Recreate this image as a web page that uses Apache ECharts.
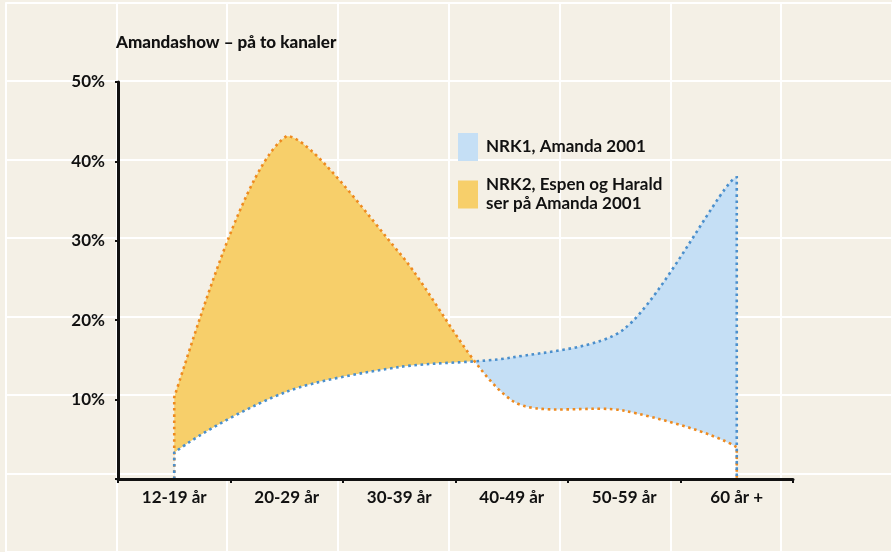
<!DOCTYPE html>
<html>
<head>
<meta charset="utf-8">
<script src="https://cdn.jsdelivr.net/npm/echarts@6/dist/echarts.min.js"></script>
<style>
  html, body { margin: 0; padding: 0; background: #f4f0e6; }
  #main { width: 892px; height: 552px; }
</style>
</head>
<body>
<div id="main"></div>
<script>
// aldersgrupper og andel seere (%)
const ageGroups = ['12-19 år', '20-29 år', '30-39 år', '40-49 år', '50-59 år', '60 år +'];
const nrk1 = [3.3, 11, 14.1, 15.3, 18.9, 38];
const nrk2 = [10.3, 43.2, 28.5, 9.9, 8.6, 4];
const yTicks = [0, 10, 20, 30, 40, 50];
const nameNrk1 = 'NRK1, Amanda 2001';
const nameNrk2 = 'NRK2, Espen og Harald\nser på Amanda 2001';

const FONT = 'Lato';
const SMOOTH = 0.28;

const chart = echarts.init(document.getElementById('main'), null, { renderer: 'canvas' });

// kurve: start i 0, gjennom verdiene, ned til 0 igjen
function curvePoints(api, values) {
  const pts = [api.coord([0, 0])];
  values.forEach((v, i) => pts.push(api.coord([i, v])));
  pts.push(api.coord([values.length - 1, 0]));
  return pts;
}

function curveShape(pts) {
  // smoothConstraint holder kontrollpunktene innenfor kurvens ramme
  return { points: pts, smooth: SMOOTH, smoothConstraint: [pts[0], pts[0]] };
}

const option = {
  backgroundColor: '#f4f0e6',
  animation: false,
  title: {
    text: 'Amandashow – på to kanaler',
    left: 116,
    top: 34,
    padding: 0,
    textStyle: { fontFamily: FONT, fontSize: 17, fontWeight: 900, color: '#111' }
  },
  legend: {
    orient: 'vertical',
    left: 458,
    top: 133,
    padding: 0,
    itemWidth: 20,
    itemHeight: 28,
    itemGap: 2,
    icon: 'rect',
    selectedMode: false,
    textStyle: { fontFamily: FONT, fontSize: 17, fontWeight: 'bold', color: '#111', lineHeight: 19, padding: [0, 0, 0, 3] },
    data: [
      { name: nameNrk1 },
      { name: nameNrk2, textStyle: { padding: [25, 0, 0, 3] } }
    ]
  },
  grid: [
    { left: 118, right: 99, top: 82, bottom: 73 },
    // bakgrunnsrutenett over hele flaten
    { left: 5.5, top: 2.6, width: 900, height: 555.8 }
  ],
  xAxis: [
    {
      type: 'category',
      gridIndex: 0,
      data: ageGroups,
      boundaryGap: true,
      axisLine: { lineStyle: { color: '#111', width: 3 } },
      axisTick: { show: true, length: 4, lineStyle: { color: '#111', width: 2 } },
      axisLabel: { margin: 10, fontFamily: FONT, fontSize: 17, fontWeight: 'bold', color: '#111' },
      splitLine: { show: false },
      z: 5
    },
    {
      type: 'value',
      gridIndex: 1,
      min: 0, max: 8, interval: 1,
      axisLine: { show: false }, axisTick: { show: false }, axisLabel: { show: false },
      splitLine: { show: true, lineStyle: { color: '#ffffff', width: 2 } }
    }
  ],
  yAxis: [
    {
      type: 'value',
      gridIndex: 0,
      min: yTicks[0],
      max: yTicks[yTicks.length - 1],
      interval: 10,
      axisLine: { show: true, lineStyle: { color: '#111', width: 3 } },
      axisTick: { show: true, length: 3, lineStyle: { color: '#111', width: 2 } },
      axisLabel: {
        margin: 13,
        fontFamily: FONT, fontSize: 17, fontWeight: 'bold', color: '#111',
        formatter: v => (v === 0 ? '' : v + '%')
      },
      splitLine: { show: false },
      z: 5
    },
    {
      type: 'value',
      gridIndex: 1,
      min: 0, max: 7, interval: 1,
      axisLine: { show: false }, axisTick: { show: false }, axisLabel: { show: false },
      splitLine: { show: true, lineStyle: { color: '#ffffff', width: 2 } }
    }
  ],
  series: [
    {
      name: nameNrk2,
      type: 'custom',
      xAxisIndex: 0, yAxisIndex: 0,
      itemStyle: { color: '#f7cf6a' },
      data: nrk2.map((v, i) => [i, v]),
      renderItem: function (params, api) {
        if (params.dataIndex !== 0) return;
        const pts = curvePoints(api, nrk2);
        return {
          type: 'group',
          children: [
            { type: 'polyline', z2: 1, shape: curveShape(pts),
              style: { fill: '#f7cf6a', stroke: 'none' } },
            { type: 'polyline', z2: 10, shape: curveShape(pts),
              style: { fill: 'none', stroke: '#ee8a1f', lineWidth: 2.6, lineDash: [2.6, 3.6] } }
          ]
        };
      }
    },
    {
      name: nameNrk1,
      type: 'custom',
      xAxisIndex: 0, yAxisIndex: 0,
      itemStyle: { color: '#c5dff5' },
      data: nrk1.map((v, i) => [i, v]),
      renderItem: function (params, api) {
        if (params.dataIndex !== 0) return;
        const pts = curvePoints(api, nrk1);
        const other = curvePoints(api, nrk2);
        return {
          type: 'group',
          children: [
            { type: 'polyline', z2: 2, shape: curveShape(pts),
              style: { fill: '#c5dff5', stroke: 'none' } },
            // hvitt der begge kurvene overlapper
            { type: 'polyline', z2: 3, shape: curveShape(pts),
              style: { fill: '#ffffff', stroke: 'none' },
              clipPath: { type: 'polyline', shape: curveShape(other) } },
            { type: 'polyline', z2: 11, shape: curveShape(pts),
              style: { fill: 'none', stroke: '#4b8fcc', lineWidth: 2.6, lineDash: [2.6, 3.6] } }
          ]
        };
      }
    }
  ]
};

chart.setOption(option);
</script>
</body>
</html>
